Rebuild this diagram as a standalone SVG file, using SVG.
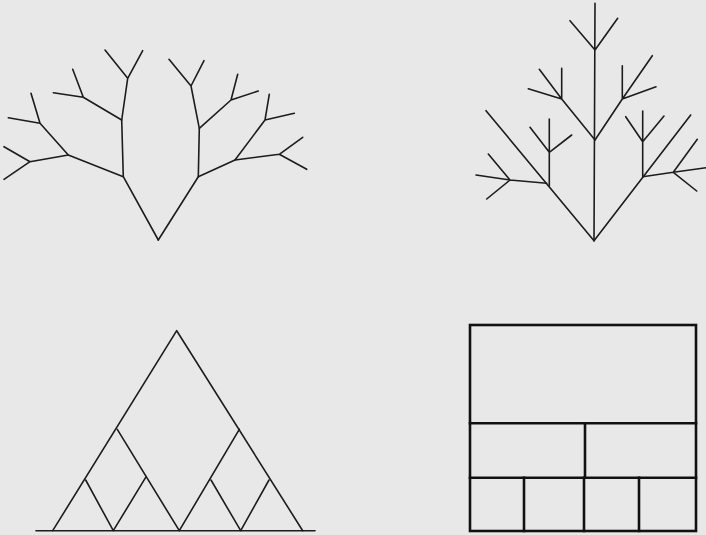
<svg xmlns="http://www.w3.org/2000/svg" width="706" height="535" viewBox="0 0 706 535">
<style>
.l{fill:none;stroke:#1c1c1c;stroke-width:1.6;stroke-linecap:round;stroke-linejoin:round}
.b{fill:none;stroke:#111;stroke-width:2.6;stroke-linecap:square}
</style>
<rect width="706" height="535" fill="#e8e8e8"/>
<g id="tree-left" class="l">
<path d="M158.3,240 L123.3,176.7 L121.7,120 L127.7,78.3 L105,50 M127.7,78.3 L142.7,50.7"/>
<path d="M121.7,120 L83.3,97.3 L53.3,92.7 M83.3,97.3 L72.7,69.3"/>
<path d="M123.3,176.7 L68.3,155 L40,123.3 L8.3,117.7 M40,123.3 L31,93.3"/>
<path d="M68.3,155 L30,161.7 L4,146.7 M30,161.7 L4,179.3"/>
<path d="M158.3,240 L198.3,176.7 L199.3,128.3 L191,86 L169,59.3 M191,86 L204,60.7"/>
<path d="M199.3,128.3 L231,100 L237.7,74.3 M231,100 L258.3,91"/>
<path d="M198.3,176.7 L235,160 L265,120 L269.3,94.3 M265,120 L294.3,113.3"/>
<path d="M235,160 L279.3,154.3 L302.7,137.3 M279.3,154.3 L306.7,169.3"/>
</g>
<g id="tree-right" class="l">
<path d="M594,240.7 L595,3.3 M595,50 L570,20.7 M595,50 L617.7,18.3"/>
<path d="M595,140 L561.7,99 L539.3,69.3 M561.7,99 L561.7,68.3 M561.7,99 L528.3,88.7"/>
<path d="M595,140 L622.3,99 L622.3,65.7 M622.3,99 L652.3,55.7 M622.3,99 L656,86.7"/>
<path d="M594,240.7 L486,110.7"/>
<path d="M549.3,186 L549.3,119 M549.3,152.3 L530,127.3 M549.3,152.3 L571.7,135"/>
<path d="M546.7,183.3 L510,180 L476,175 M510,180 L488.3,154 M510,180 L486.7,199"/>
<path d="M594,240.7 L690.7,115"/>
<path d="M642.7,176.7 L642.7,111 M642.7,141.7 L625.7,116.7 M642.7,141.7 L664,116"/>
<path d="M642.7,176.7 L673.3,172.3 L706,167.7 M673.3,172.3 L697.3,139.3 M673.3,172.3 L696.7,191"/>
</g>
<g id="triangles" class="l">
<path d="M36,530.7 L315,530.7"/>
<path d="M52.7,530.7 L176.7,330.7 L302.7,530.7"/>
<path d="M117.3,429.3 L179.3,530.7 L239.3,429.3"/>
<path d="M85.7,480 L113.3,530.7 L145.7,477.3"/>
<path d="M211,480 L240.7,530.7 L269,480"/>
</g>
<g id="boxes" class="b">
<rect x="470" y="325" width="226" height="206"/>
<path d="M470,423.3 L696,423.3 M470,477.7 L696,477.7"/>
<path d="M585,423.3 L585,477.7 M524,477.7 L524,531 M584,477.7 L584,531 M639,477.7 L639,531"/>
</g>
</svg>
